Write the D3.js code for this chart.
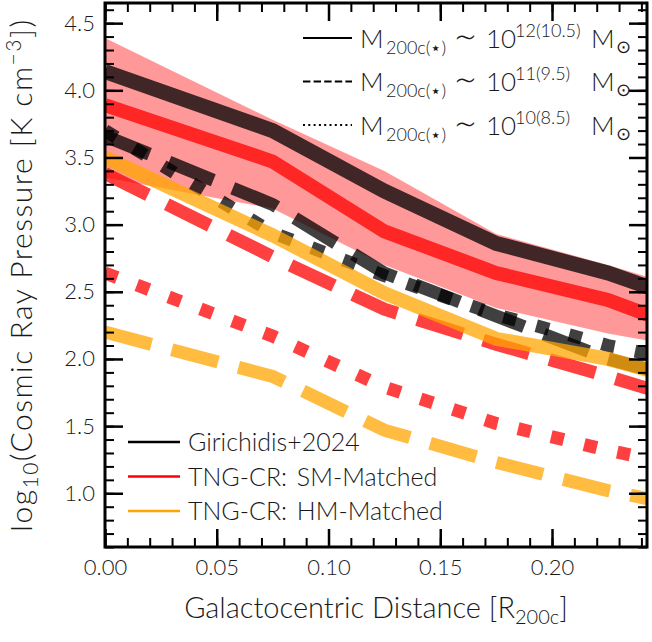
<!DOCTYPE html>
<html>
<head>
<meta charset="utf-8">
<script src="https://cdn.jsdelivr.net/npm/d3@7"></script>
<style>
  body { margin: 0; background: #fff; }
  svg { display: block; }
  text { font-family: Lato, 'DejaVu Sans', sans-serif; font-weight: 300; fill: #1a1a1a; }
</style>
</head>
<body>
<div id="chart"></div>
<script>
// radial bins (R200c); last point lies past the axis and gets clipped
const radius = [0, 0.075, 0.125, 0.175, 0.225, 0.275]

// Girichidis+2024
const giri12 = [4.14, 3.70, 3.25, 2.86, 2.64, 2.35]
const giri11 = [3.66, 3.15, 2.64, 2.32, 2.00, 1.78]
const giri10 = [3.70, 2.94, 2.62, 2.33, 2.10, 1.93]

// TNG-CR stellar-mass matched
const sm12 = [3.89, 3.47, 2.95, 2.64, 2.44, 2.13]
const sm12Lo = [3.35, 3.12, 2.70, 2.38, 2.19, 2.04]
const sm12Hi = [4.39, 3.78, 3.40, 2.93, 2.70, 2.45]
const sm11 = [3.38, 2.76, 2.37, 2.11, 1.87, 1.62]
const sm10 = [2.64, 2.17, 1.79, 1.52, 1.32, 1.15]

// TNG-CR halo-mass matched
const hm12 = [3.50, 2.92, 2.49, 2.15, 2.00, 1.77]
const hm11 = [2.20, 1.87, 1.47, 1.23, 1.02, 0.85]

const xTicks = [0, 0.05, 0.1, 0.15, 0.2]
const yTicks = [1.0, 1.5, 2.0, 2.5, 3.0, 3.5, 4.0, 4.5]

const width = 652
const height = 642
const margin = { top: 3, right: 5, bottom: 95, left: 105 }

const svg = d3
  .select('#chart')
  .append('svg')
  .attr('width', width)
  .attr('height', height)

const x = d3
  .scaleLinear()
  .domain([0, 0.2425])
  .range([margin.left, width - margin.right])
const y = d3
  .scaleLinear()
  .domain([0.6, 4.65])
  .range([height - margin.bottom, margin.top])

svg
  .append('clipPath')
  .attr('id', 'plot-clip')
  .append('rect')
  .attr('x', x.range()[0])
  .attr('y', y.range()[1])
  .attr('width', x.range()[1] - x.range()[0])
  .attr('height', y.range()[0] - y.range()[1])

const plot = svg.append('g').attr('clip-path', 'url(#plot-clip)')

const line = d3
  .line()
  .x(d => x(d[0]))
  .y(d => y(d[1]))
const area = d3
  .area()
  .x(d => x(d[0]))
  .y0(d => y(d[1]))
  .y1(d => y(d[2]))

const pts = vals => radius.map((r, i) => [r, vals[i]])

plot
  .append('path')
  .attr('d', area(radius.map((r, i) => [r, sm12Lo[i], sm12Hi[i]])))
  .attr('fill', 'red')
  .attr('fill-opacity', 0.4)

const dashFor = { solid: null, dashed: '48,21', dotted: '13,21' }
const series = [
  { vals: giri12, color: 'black', style: 'solid', w: 15 },
  { vals: giri11, color: 'black', style: 'dashed', w: 13 },
  { vals: giri10, color: 'black', style: 'dotted', w: 13 },
  { vals: sm12, color: 'red', style: 'solid', w: 14 },
  { vals: sm11, color: 'red', style: 'dashed', w: 13 },
  { vals: sm10, color: 'red', style: 'dotted', w: 13 },
  { vals: hm12, color: 'orange', style: 'solid', w: 14 },
  { vals: hm11, color: 'orange', style: 'dashed', w: 13 },
]

series.forEach(s => {
  plot
    .append('path')
    .attr('d', line(pts(s.vals)))
    .attr('fill', 'none')
    .attr('stroke', s.color)
    .attr('stroke-opacity', 0.75)
    .attr('stroke-width', s.w)
    .attr('stroke-dasharray', dashFor[s.style])
})

// axes: ticks point inwards on all four sides
const xMinor = d3.range(0, 0.2426, 0.01)
const yMinor = d3.range(0.6, 4.651, 0.1)
const axes = svg.append('g')

function styleAxis(g) {
  g.select('.domain').remove()
  g.selectAll('line').attr('stroke', '#000')
  g.selectAll('text').attr('font-size', 22).attr('fill', '#1a1a1a')
}

function addAxis(axis, tx, ty, lw) {
  axes
    .append('g')
    .attr('transform', `translate(${tx},${ty})`)
    .call(axis)
    .call(styleAxis)
    .selectAll('line')
    .attr('stroke-width', lw)
}

const [x0, x1] = x.range()
const [y0, y1] = y.range()
addAxis(d3.axisBottom(x).tickValues(xTicks).tickSize(-18).tickPadding(12).tickFormat(d3.format('.2f')), 0, y0, 2.5)
addAxis(d3.axisBottom(x).tickValues(xMinor).tickSize(-9).tickFormat(''), 0, y0, 2)
addAxis(d3.axisTop(x).tickValues(xTicks).tickSize(-18).tickFormat(''), 0, y1, 2.5)
addAxis(d3.axisTop(x).tickValues(xMinor).tickSize(-9).tickFormat(''), 0, y1, 2)
addAxis(d3.axisLeft(y).tickValues(yTicks).tickSize(-18).tickPadding(10).tickFormat(d3.format('.1f')), x0, 0, 2.5)
addAxis(d3.axisLeft(y).tickValues(yMinor).tickSize(-9).tickFormat(''), x0, 0, 2)
addAxis(d3.axisRight(y).tickValues(yTicks).tickSize(-18).tickFormat(''), x1, 0, 2.5)
addAxis(d3.axisRight(y).tickValues(yMinor).tickSize(-9).tickFormat(''), x1, 0, 2)

svg
  .append('rect')
  .attr('x', x0)
  .attr('y', y1)
  .attr('width', x1 - x0)
  .attr('height', y0 - y1)
  .attr('fill', 'none')
  .attr('stroke', '#000')
  .attr('stroke-width', 3)

// axis titles
const xTitle = svg
  .append('text')
  .attr('x', (x0 + x1) / 2)
  .attr('y', 618)
  .attr('text-anchor', 'middle')
  .attr('font-size', 29)
xTitle.append('tspan').text('Galactocentric Distance [R')
xTitle.append('tspan').attr('font-size', 20).attr('dy', 6).text('200c')
xTitle.append('tspan').attr('dy', -6).text(']')

const yTitle = svg
  .append('text')
  .attr('transform', `translate(32,${(y0 + y1) / 2}) rotate(-90)`)
  .attr('text-anchor', 'middle')
  .attr('font-size', 30)
  .attr('letter-spacing', 1.5)
yTitle.append('tspan').text('log')
yTitle.append('tspan').attr('font-size', 21).attr('dy', 6).text('10')
yTitle.append('tspan').attr('dy', -6).text('(Cosmic Ray Pressure [K cm')
yTitle.append('tspan').attr('font-size', 21).attr('dy', -11).text('−3')
yTitle.append('tspan').attr('dy', 11).text('])')

// mass legend (line styles)
const massLegend = [
  { style: 'solid', halo: '12', star: '10.5' },
  { style: 'dashed', halo: '11', star: '9.5' },
  { style: 'dotted', halo: '10', star: '8.5' },
]
const smallDash = { solid: null, dashed: '7.4,3.2', dotted: '2,3.3' }
massLegend.forEach((m, i) => {
  const ly = 38 + i * 43.5
  svg
    .append('line')
    .attr('x1', 303)
    .attr('x2', 352)
    .attr('y1', ly)
    .attr('y2', ly)
    .attr('stroke', '#000')
    .attr('stroke-width', 2)
    .attr('stroke-dasharray', smallDash[m.style])
  const t = svg
    .append('text')
    .attr('y', ly + 9.5)
    .attr('font-size', 26)
  t.append('tspan').attr('x', 360).text('M')
  t.append('tspan').attr('x', 386).attr('font-size', 18).attr('dy', 6).text('200c(⋆)')
  t.append('tspan').attr('x', 454).attr('dy', -4).attr('font-size', 36).text('∼')
  t.append('tspan').attr('x', 486).attr('dy', -2).text('10')
  t.append('tspan').attr('x', 515).attr('font-size', 18).attr('dy', -11).text(`${m.halo}(${m.star})`)
  t.append('tspan').attr('x', 591).attr('dy', 11).text('M')
  t.append('tspan').attr('x', 616).attr('font-size', 18).attr('dy', 5).text('⊙')
})

// source legend (colours)
const sources = ['Girichidis+2024', 'TNG-CR: SM-Matched', 'TNG-CR: HM-Matched']
const sourceColors = ['black', 'red', 'orange']
sources.forEach((s, i) => {
  const ly = 442 + i * 34.5
  svg
    .append('line')
    .attr('x1', 128)
    .attr('x2', 180)
    .attr('y1', ly)
    .attr('y2', ly)
    .attr('stroke', sourceColors[i])
    .attr('stroke-width', 2.5)
  svg
    .append('text')
    .attr('x', 188)
    .attr('y', ly + 9)
    .attr('font-size', 25)
    .attr('word-spacing', 3)
    .text(s)
})
</script>
</body>
</html>
